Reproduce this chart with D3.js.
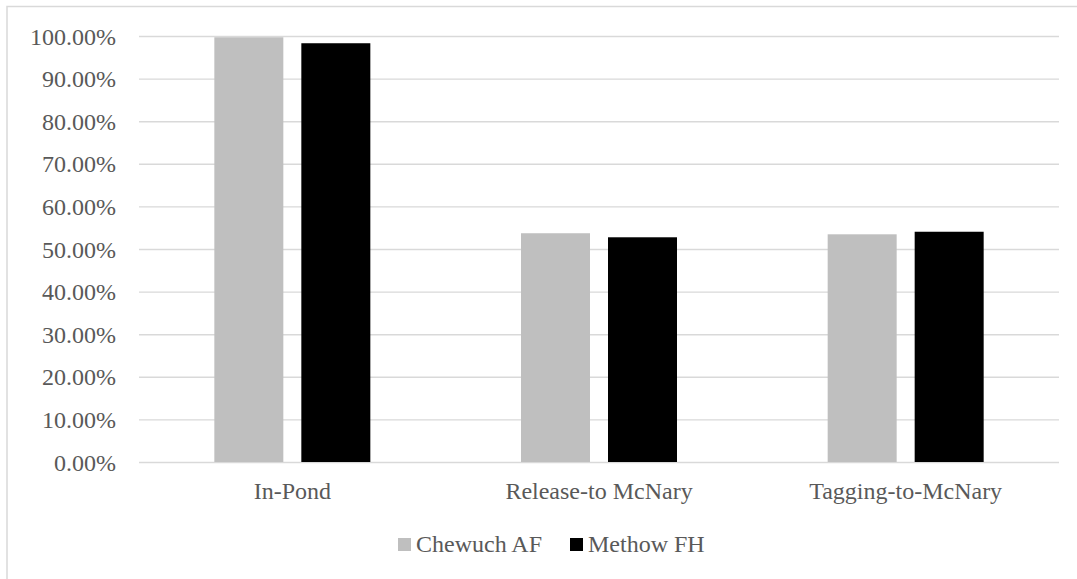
<!DOCTYPE html>
<html><head><meta charset="utf-8">
<script src="https://cdn.jsdelivr.net/npm/d3@7/dist/d3.min.js"></script>
<style>body{margin:0;background:#fff}svg{display:block}text{font-family:"Liberation Serif","Times New Roman",serif;fill:#595959}</style>
</head><body><svg id="c" width="1077" height="579"></svg>
<script>
const categories = ["In-Pond", "Release-to McNary", "Tagging-to-McNary"];
const seriesNames = ["Chewuch AF", "Methow FH"];
const chewuch = [0.997, 0.537, 0.5345];
const methow = [0.983, 0.5275, 0.5405];
const yTicks = [0,0.1,0.2,0.3,0.4,0.5,0.6,0.7,0.8,0.9,1.0];
const colors = ["#bfbfbf", "#000000"];

const svg = d3.select("#c");
const L = 139, R = 1059, T = 36, B = 462;
// chart border (extends beyond image right/bottom)
svg.append("rect").attr("x",7).attr("y",6.5).attr("width",1100).attr("height",600)
  .attr("fill","none").attr("stroke","#d9d9d9").attr("stroke-width",1.5);

const y = d3.scaleLinear().domain([0,1]).range([B,T]);
const x0 = d3.scaleBand().domain(categories).range([L,R]).padding(0);
const inner = 156, off = (x0.bandwidth()-inner)/2;
const x1 = d3.scaleBand().domain(seriesNames).range([off, off+inner]).paddingInner(0.2069).paddingOuter(0);

const yAxis = d3.axisLeft(y).tickValues(yTicks).tickSize(-(R-L)).tickFormat(d3.format(".2%")).tickPadding(23);
const gy = svg.append("g").attr("transform",`translate(${L},0)`).call(yAxis);
gy.select(".domain").remove();
gy.selectAll("line").attr("stroke","#d9d9d9").attr("stroke-width",1.4);
gy.selectAll("text").attr("font-size",24).style("fill","#595959").attr("dy","0.34em");

const data = [chewuch, methow];
seriesNames.forEach((s,i)=>{
  svg.append("g").selectAll("rect").data(categories).join("rect")
    .attr("x", c => x0(c)+x1(s))
    .attr("width", x1.bandwidth())
    .attr("y", (c,j) => y(data[i][j]))
    .attr("height", (c,j) => B - y(data[i][j]))
    .attr("fill", colors[i]);
});

const xAxis = d3.axisBottom(x0).tickSize(0).tickPadding(20);
const gx = svg.append("g").attr("transform",`translate(0,${B})`).call(xAxis);
gx.select(".domain").remove();
gx.selectAll("text").attr("font-size",24).style("fill","#595959");

// legend
const legendX = [398, 570];
seriesNames.forEach((s,i)=>{
  svg.append("rect").attr("x",legendX[i]).attr("y",538).attr("width",13).attr("height",13).attr("fill",colors[i]);
  svg.append("text").attr("x",legendX[i]+18).attr("y",551.5).attr("font-size",24).text(s);
});
</script></body></html>
